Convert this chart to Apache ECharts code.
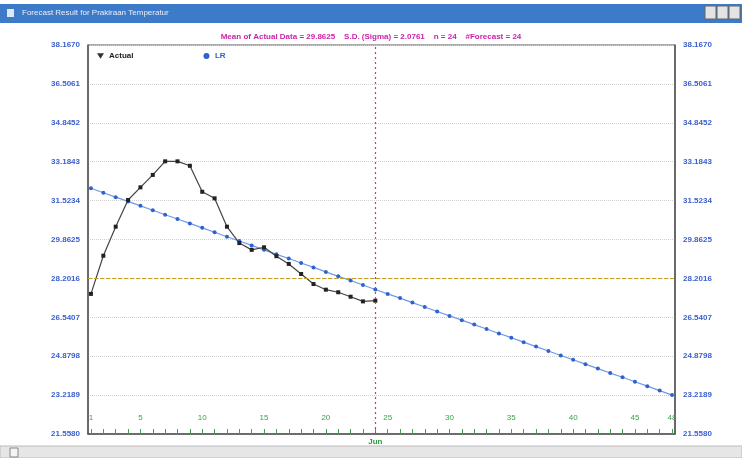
<!DOCTYPE html>
<html>
<head>
<meta charset="utf-8">
<script src="https://cdn.jsdelivr.net/npm/echarts@6/dist/echarts.min.js"></script>
<style>
html,body{margin:0;padding:0;background:#ffffff;}
#c{width:742px;height:458px;}
</style>
</head>
<body>
<div id="c"></div>
<script>
// ---- data ----
var windowTitle = 'Forecast Result for Prakiraan Temperatur';
var statsText = 'Mean of Actual Data = 29.8625    S.D. (Sigma) = 2.0761    n = 24    #Forecast = 24';
var xIndex = [1,2,3,4,5,6,7,8,9,10,11,12,13,14,15,16,17,18,19,20,21,22,23,24,25,26,27,28,29,30,31,32,33,34,35,36,37,38,39,40,41,42,43,44,45,46,47,48];
var actualValues = [27.54,29.17,30.41,31.55,32.09,32.62,33.20,33.20,33.01,31.90,31.62,30.41,29.71,29.42,29.53,29.15,28.82,28.39,27.96,27.72,27.61,27.42,27.22,27.25];
var lrValues = [32.05,31.86,31.67,31.49,31.30,31.11,30.92,30.74,30.55,30.36,30.17,29.98,29.80,29.61,29.42,29.23,29.05,28.86,28.67,28.48,28.29,28.11,27.92,27.73,27.54,27.36,27.17,26.98,26.79,26.60,26.42,26.23,26.04,25.85,25.67,25.48,25.29,25.10,24.91,24.73,24.54,24.35,24.16,23.98,23.79,23.60,23.41,23.22];
var xTickLabels = [1,5,10,15,20,25,30,35,40,45,48];
var yMin = 21.5580, yMax = 38.1670, yStep = 1.6609;
var refLineValue = 28.2016;
var forecastStart = 24;
var forecastLabel = 'Jun';

var actualPairs = actualValues.map(function(v,i){return [xIndex[i], v];});
var lrPairs = lrValues.map(function(v,i){return [xIndex[i], v];});

var chart = echarts.init(document.getElementById('c'));
var labelFont = {color:'#3a5fcd', fontSize:8, fontFamily:'Liberation Sans', fontWeight:'bold'};
var yAxisCommon = {
  type:'value', min:yMin, max:yMax, interval:yStep,
  axisLine:{show:true, lineStyle:{color:'#555', width:1.5}},
  axisTick:{show:false},
  splitLine:{show:true, lineStyle:{color:'#d0d0d0', type:'dotted'}},
  axisLabel:Object.assign({formatter:function(v){return v.toFixed(4);}, showMaxLabel:true, showMinLabel:true}, labelFont)
};
chart.setOption({
  animation:false,
  backgroundColor:'#ffffff',
  graphic:[
    {type:'rect', shape:{x:0,y:4,width:742,height:19}, style:{fill:'#3d7bc8'}},
    {type:'text', left:22, top:9, style:{text:windowTitle, fill:'#e8eefc', fontSize:8, fontFamily:'Liberation Sans'}},
    {type:'rect', shape:{x:7,y:9,width:7,height:8}, style:{fill:'#dfe8f5'}},
    {type:'rect', shape:{x:705,y:6,width:11,height:13}, style:{fill:'#e4e4e4', stroke:'#666'}},
    {type:'rect', shape:{x:717,y:6,width:11,height:13}, style:{fill:'#e4e4e4', stroke:'#666'}},
    {type:'rect', shape:{x:729,y:6,width:11,height:13}, style:{fill:'#e4e4e4', stroke:'#666'}},
    {type:'rect', shape:{x:0,y:446,width:742,height:12}, style:{fill:'#e6e6e6', stroke:'#bbb'}},
    {type:'rect', shape:{x:10,y:448,width:8,height:9}, style:{fill:'#f4f4f4', stroke:'#888'}}
  ],
  title:{
    text:statsText, left:'center', top:28,
    textStyle:{color:'#cc22aa', fontSize:8, fontWeight:'bold', fontFamily:'Liberation Sans'}
  },
  legend:{
    left:92, top:47, itemGap:70, itemWidth:7, itemHeight:6,
    textStyle:{fontSize:8, fontWeight:'bold', fontFamily:'Liberation Sans', color:'#222'},
    data:[{name:'Actual', icon:'path://M0,0L10,0L5,8Z', itemStyle:{color:'#333'}},
          {name:'LR', icon:'circle', itemStyle:{color:'#2f62d0'}, textStyle:{color:'#2f62d0'}}]
  },
  grid:{left:88, right:67, top:45, bottom:24, show:true, borderColor:'#555', borderWidth:1},
  xAxis:{
    type:'value', min:0.76, max:48.24,
    axisLine:{show:true, onZero:false, lineStyle:{color:'#555', width:1.5}},
    axisTick:{show:true, inside:true, length:5, customValues:xIndex, lineStyle:{color:'#3aa34a'}},
    splitLine:{show:false},
    axisLabel:{inside:true, margin:12, customValues:xTickLabels, color:'#3aa34a', fontSize:8, fontFamily:'Liberation Sans'}
  },
  yAxis:[
    Object.assign({position:'left'}, yAxisCommon),
    Object.assign({position:'right'}, yAxisCommon, {splitLine:{show:false}})
  ],
  series:[
    {
      name:'Actual', type:'line', data:actualPairs, yAxisIndex:0,
      symbol:'rect', symbolSize:4, showAllSymbol:true,
      lineStyle:{color:'#444', width:1.2}, itemStyle:{color:'#222'},
      markLine:{
        silent:true, symbol:'none',
        lineStyle:{color:'#c8a020', type:'dashed', width:1},
        label:{show:false},
        data:[{yAxis:refLineValue}]
      },
      z:3
    },
    {
      name:'LR', type:'line', data:lrPairs, yAxisIndex:0,
      symbol:'circle', symbolSize:4, showAllSymbol:true,
      lineStyle:{color:'#6f9ae6', width:1.2}, itemStyle:{color:'#2f62d0'},
      markLine:{
        silent:true, symbol:'none',
        lineStyle:{color:'#ff2a4a', type:[2,3], width:1.2, opacity:1},
        emphasis:{disabled:true},
        label:{show:true, position:'start', formatter:forecastLabel, color:'#2a9a3a', fontSize:8, fontWeight:'bold', distance:4},
        data:[{xAxis:forecastStart, lineStyle:{color:'#ff2a4a'}}]
      },
      z:2
    }
  ]
});
</script>
</body>
</html>
